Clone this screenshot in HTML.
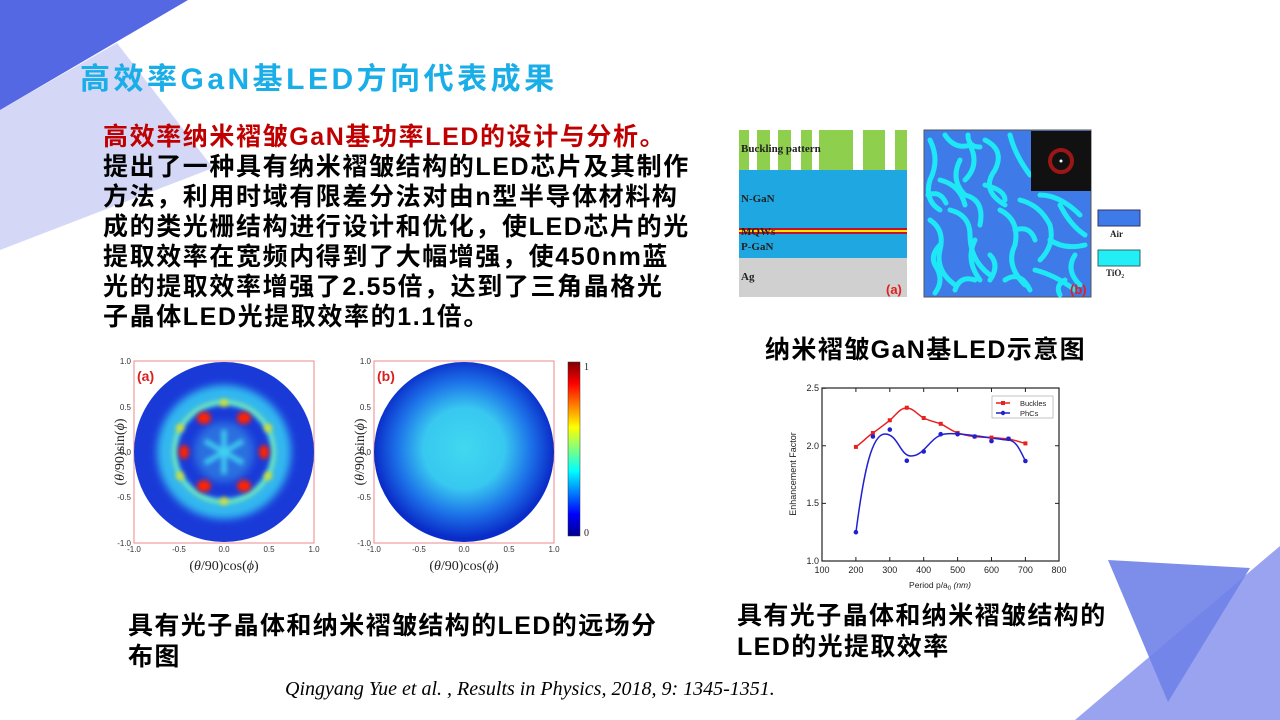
<!DOCTYPE html>
<html><head><meta charset="utf-8"><style>
body{margin:0;width:1280px;height:720px;overflow:hidden;background:#fff;position:relative;font-family:"Liberation Sans","Noto Sans CJK SC",sans-serif;}
.t{position:absolute;white-space:nowrap;font-weight:bold;}
svg{position:absolute;left:0;top:0;}
</style></head><body>
<svg width="1280" height="720" viewBox="0 0 1280 720">
<polygon points="117,43 213,168 0,250 0,110" fill="#d4d8f6"/>
<polygon points="0,0 188,0 0,110" fill="#5468e4"/>
<polygon points="1075,720 1280,546 1280,720" fill="#9aa3f0"/>
<polygon points="1108,560 1250,568 1168,702" fill="#6f82e8" opacity="0.9"/>

<!-- schematic a -->
<rect x="739" y="130" width="168" height="40" fill="#8fcf4e"/>
<g fill="#fff"><rect x="749" y="130" width="8" height="40"/><rect x="770" y="130" width="8" height="40"/><rect x="791" y="130" width="10" height="40"/><rect x="812" y="130" width="7" height="40"/><rect x="853" y="130" width="10" height="40"/><rect x="885" y="130" width="10" height="40"/></g>
<rect x="739" y="170" width="168" height="88" fill="#1ea7e0"/>
<rect x="739" y="228" width="168" height="2" fill="#c8102e"/>
<rect x="739" y="230" width="168" height="2" fill="#ffe600"/>
<rect x="739" y="232" width="168" height="2" fill="#c8102e"/>
<rect x="739" y="258" width="168" height="39" fill="#d0d0d0"/>
<g font-family="Liberation Serif" font-weight="bold" font-size="11" fill="#222">
<text x="741" y="152">Buckling pattern</text><text x="741" y="202">N-GaN</text><text x="741" y="235">MQWs</text><text x="741" y="250">P-GaN</text><text x="741" y="280">Ag</text></g>
<text x="886" y="294" font-size="13" font-weight="bold" fill="#e02020" font-family="Liberation Sans">(a)</text>
<!-- schematic b -->
<rect x="924" y="130" width="167" height="167" fill="#3f7be8" stroke="#555"/>
<g fill="none" stroke="#1ee8f5" stroke-width="5" stroke-linecap="round">
<path d="M930,140 q10,20 0,40 q-6,20 10,30 M945,135 q10,15 25,10 q10,20 -5,35 M960,160 q-10,20 5,35 q20,5 15,30 M985,140 q20,10 10,30 q-15,20 10,35 M1010,135 q5,20 20,40 M930,220 q15,10 10,30 q-5,20 15,35 M950,210 q20,5 20,25 q0,25 20,40 M975,240 q-10,20 5,40 M1000,210 q20,10 15,35 q-10,20 10,40 M1020,200 q20,5 30,25 q5,20 -10,35 M1040,195 q20,0 40,20 M1050,240 q15,10 35,5 M1035,270 q20,5 40,20 M935,265 q10,15 0,28 M1005,280 q15,-10 25,10 M1060,205 q10,20 25,30 M940,180 q20,5 25,25 M985,185 q20,5 20,15 M928,195 q12,-5 18,8 M955,290 q5,-15 20,-10 M1075,255 q-10,15 5,30 M1065,280 q-10,5 -5,15 M990,255 q10,10 0,25 M1015,230 q15,-5 20,10 M940,245 q-10,10 -5,20 M968,135 q0,12 12,12"/>
</g>
<rect x="1031" y="131" width="60" height="60" fill="#111"/>
<circle cx="1061" cy="161" r="11" fill="none" stroke="#c01818" stroke-width="4" opacity="0.8"/>
<circle cx="1061" cy="161" r="1.5" fill="#fff"/>
<text x="1070" y="294" font-size="13" font-weight="bold" fill="#e02020" font-family="Liberation Sans">(b)</text>
<rect x="1098" y="210" width="42" height="16" fill="#3f7be8" stroke="#336"/>
<rect x="1098" y="250" width="42" height="16" fill="#22eef5" stroke="#366"/>
<g font-family="Liberation Serif" font-weight="bold" font-size="9" fill="#222"><text x="1110" y="237">Air</text><text x="1106" y="276">TiO₂</text></g>

<!-- far field -->
<defs>
<filter id="bl" x="-30%" y="-30%" width="160%" height="160%"><feGaussianBlur stdDeviation="4"/></filter>
<filter id="bl2"><feGaussianBlur stdDeviation="2.5"/></filter>
<radialGradient id="gb" cx="50%" cy="48%" r="50%"><stop offset="0" stop-color="#40d8f0"/><stop offset="0.45" stop-color="#38c8f0"/><stop offset="0.75" stop-color="#1c70e8"/><stop offset="1" stop-color="#0a2cc8"/></radialGradient>
<clipPath id="ca"><circle cx="224" cy="452" r="90"/></clipPath>
<linearGradient id="cb" x1="0" y1="1" x2="0" y2="0"><stop offset="0" stop-color="#00008f"/><stop offset="0.125" stop-color="#0000ff"/><stop offset="0.375" stop-color="#00ffff"/><stop offset="0.625" stop-color="#ffff00"/><stop offset="0.875" stop-color="#ff0000"/><stop offset="1" stop-color="#800000"/></linearGradient>
</defs>
<rect x="134" y="361" width="180" height="182" fill="none" stroke="#e88" stroke-width="1"/>
<circle cx="224" cy="452" r="90" fill="#1a3ad8"/>
<g clip-path="url(#ca)">
<circle cx="224" cy="452" r="58" fill="none" stroke="#30b8f0" stroke-width="18" filter="url(#bl)"/>
<circle cx="224" cy="452" r="50" fill="none" stroke="#70f0c0" stroke-width="5" filter="url(#bl2)"/>
<circle cx="224" cy="452" r="30" fill="#2a70e0" filter="url(#bl)"/>
<g stroke="#40d0f0" stroke-width="5" filter="url(#bl2)"><path d="M224,452 L224,430 M224,452 L243,441 M224,452 L243,463 M224,452 L224,474 M224,452 L205,463 M224,452 L205,441"/></g>
<g fill="#ff2000" filter="url(#bl2)"><ellipse cx="204" cy="418" rx="7" ry="6"/><ellipse cx="244" cy="418" rx="7" ry="6"/><ellipse cx="184" cy="452" rx="5" ry="7"/><ellipse cx="264" cy="452" rx="5" ry="7"/><ellipse cx="204" cy="486" rx="7" ry="6"/><ellipse cx="244" cy="486" rx="7" ry="6"/></g>
<g fill="#ffe000" filter="url(#bl2)" opacity="0.8"><circle cx="224" cy="403" r="4"/><circle cx="224" cy="501" r="4"/><circle cx="180" cy="428" r="4"/><circle cx="268" cy="428" r="4"/><circle cx="180" cy="476" r="4"/><circle cx="268" cy="476" r="4"/></g>
</g>
<text x="137" y="381" font-size="14" font-weight="bold" fill="#d82020">(a)</text>
<rect x="374" y="361" width="180" height="182" fill="none" stroke="#e88" stroke-width="1"/>
<circle cx="464" cy="452" r="90" fill="url(#gb)"/>
<text x="377" y="381" font-size="14" font-weight="bold" fill="#d82020">(b)</text>
<rect x="568" y="362" width="12" height="174" fill="url(#cb)" stroke="#333" stroke-width="0.5"/>
<g font-family="Liberation Serif" font-size="10" fill="#222"><text x="584" y="370">1</text><text x="584" y="536">0</text></g>
<g font-size="8" fill="#333" text-anchor="end">
<text x="131" y="364">1.0</text><text x="131" y="410">0.5</text><text x="131" y="455">0.0</text><text x="131" y="500">-0.5</text><text x="131" y="546">-1.0</text>
<text x="371" y="364">1.0</text><text x="371" y="410">0.5</text><text x="371" y="455">0.0</text><text x="371" y="500">-0.5</text><text x="371" y="546">-1.0</text></g>
<g font-size="8" fill="#333" text-anchor="middle">
<text x="134" y="552">-1.0</text><text x="179" y="552">-0.5</text><text x="224" y="552">0.0</text><text x="269" y="552">0.5</text><text x="314" y="552">1.0</text>
<text x="374" y="552">-1.0</text><text x="419" y="552">-0.5</text><text x="464" y="552">0.0</text><text x="509" y="552">0.5</text><text x="554" y="552">1.0</text></g>
<g font-family="Liberation Serif" font-size="14" fill="#222" text-anchor="middle">
<text x="224" y="570">(<tspan font-style="italic">θ</tspan>/90)cos(<tspan font-style="italic">ϕ</tspan>)</text>
<text x="464" y="570">(<tspan font-style="italic">θ</tspan>/90)cos(<tspan font-style="italic">ϕ</tspan>)</text>
<text transform="translate(124,452) rotate(-90)">(<tspan font-style="italic">θ</tspan>/90)sin(<tspan font-style="italic">ϕ</tspan>)</text>
<text transform="translate(364,452) rotate(-90)">(<tspan font-style="italic">θ</tspan>/90)sin(<tspan font-style="italic">ϕ</tspan>)</text></g>

<!-- line chart -->
<rect x="822" y="388" width="237" height="173" fill="none" stroke="#222" stroke-width="1.2"/>
<g stroke="#222" stroke-width="1">
<path d="M855.9,561v-4M889.8,561v-4M923.7,561v-4M957.6,561v-4M991.5,561v-4M1025.4,561v-4M822,503.4h4M822,445.8h4M822,388.2h4M1059,503.4h-4M1059,445.8h-4M855.9,388v4M889.8,388v4M923.7,388v4M957.6,388v4M991.5,388v4M1025.4,388v4"/></g>
<g font-size="9" fill="#222" text-anchor="middle">
<text x="822" y="573">100</text><text x="855.9" y="573">200</text><text x="889.8" y="573">300</text><text x="923.7" y="573">400</text><text x="957.6" y="573">500</text><text x="991.5" y="573">600</text><text x="1025.4" y="573">700</text><text x="1059" y="573">800</text></g>
<g font-size="9" fill="#222" text-anchor="end"><text x="819" y="564">1.0</text><text x="819" y="506">1.5</text><text x="819" y="449">2.0</text><text x="819" y="391">2.5</text></g>
<text x="940" y="588" font-size="8.5" text-anchor="middle" fill="#222">Period p/a<tspan font-size="6" dy="2">0</tspan><tspan dy="-2" font-style="italic"> (nm)</tspan></text>
<text transform="translate(796,474) rotate(-90)" font-size="9" text-anchor="middle" fill="#222">Enhancement Factor</text>
<path d="M855.9,446.9 C865,440 868,436 872.9,433 C880,428 885,424 889.8,420.3 C897,414 900,408 906.8,408 C913,408 918,415 923.7,418 C930,421 935,422 940.7,423.8 C947,427 952,431 957.6,433 C964,435 970,436 974.6,436.5 C980,437 986,437.5 991.5,437.6 C998,438 1003,438.5 1008.5,438.8 C1014,440 1020,442 1025.4,443.4" fill="none" stroke="#e82020" stroke-width="1.5"/>
<path d="M856,532 C864,470 872,434 885,434 C898,434 900,456 911,456 C925,456 930,436 945,434 C960,432 1000,440 1008,440 C1016,440 1020,450 1025.4,461" fill="none" stroke="#2020d0" stroke-width="1.5"/>
<g fill="#e82020"><rect x="853.9" y="444.9" width="4" height="4"/><rect x="870.9" y="431" width="4" height="4"/><rect x="887.8" y="418.3" width="4" height="4"/><rect x="904.8" y="405.7" width="4" height="4"/><rect x="921.7" y="416" width="4" height="4"/><rect x="938.7" y="421.8" width="4" height="4"/><rect x="955.6" y="431" width="4" height="4"/><rect x="972.6" y="434.5" width="4" height="4"/><rect x="989.5" y="435.6" width="4" height="4"/><rect x="1006.5" y="436.8" width="4" height="4"/><rect x="1023.4" y="441.4" width="4" height="4"/></g>
<g fill="#2020d0"><circle cx="855.9" cy="532.2" r="2.3"/><circle cx="872.9" cy="436.5" r="2.3"/><circle cx="889.8" cy="429.6" r="2.3"/><circle cx="906.8" cy="460.7" r="2.3"/><circle cx="923.7" cy="451.5" r="2.3"/><circle cx="940.7" cy="434.2" r="2.3"/><circle cx="957.6" cy="434.2" r="2.3"/><circle cx="974.6" cy="436.5" r="2.3"/><circle cx="991.5" cy="441.1" r="2.3"/><circle cx="1008.5" cy="438.8" r="2.3"/><circle cx="1025.4" cy="461" r="2.3"/></g>
<rect x="992" y="396" width="61" height="22" fill="#fff" stroke="#aaa" stroke-width="0.7"/>
<path d="M996,403h14" stroke="#e82020" stroke-width="1.5"/><rect x="1001" y="401" width="4" height="4" fill="#e82020"/>
<path d="M996,413h14" stroke="#2020d0" stroke-width="1.5"/><circle cx="1003" cy="413" r="2.2" fill="#2020d0"/>
<g font-size="7.5" fill="#222"><text x="1020" y="406">Buckles</text><text x="1020" y="416">PhCs</text></g>
</svg>

<div class="t" style="left:80px;top:54px;font-size:30px;color:#1aaee8;letter-spacing:3.5px;">高效率GaN基LED方向代表成果</div>
<div class="t" style="left:103px;top:122px;font-size:25px;line-height:30px;color:#c00000;letter-spacing:1.6px;">高效率纳米褶皱GaN基功率LED的设计与分析。</div>
<div class="t" style="left:103px;top:152px;font-size:25px;line-height:30px;color:#000;letter-spacing:1.6px;">提出了一种具有纳米褶皱结构的LED芯片及其制作<br>方法，利用时域有限差分法对由n型半导体材料构<br>成的类光栅结构进行设计和优化，使LED芯片的光<br>提取效率在宽频内得到了大幅增强，使450nm蓝<br>光的提取效率增强了2.55倍，达到了三角晶格光<br>子晶体LED光提取效率的1.1倍。</div>
<div class="t" style="left:765px;top:330px;font-size:25px;color:#000;letter-spacing:1.4px;">纳米褶皱GaN基LED示意图</div>
<div class="t" style="left:128px;top:611px;font-size:25px;line-height:31px;color:#000;letter-spacing:1.4px;">具有光子晶体和纳米褶皱结构的LED的远场分<br>布图</div>
<div class="t" style="left:737px;top:601px;font-size:25px;line-height:31px;color:#000;letter-spacing:1.4px;">具有光子晶体和纳米褶皱结构的<br>LED的光提取效率</div>
<div style="position:absolute;left:285px;top:678px;font-family:'Liberation Serif',serif;font-style:italic;font-size:20px;color:#000;white-space:nowrap;">Qingyang Yue et al. , Results in Physics, 2018, 9: 1345-1351.</div>
</body></html>
